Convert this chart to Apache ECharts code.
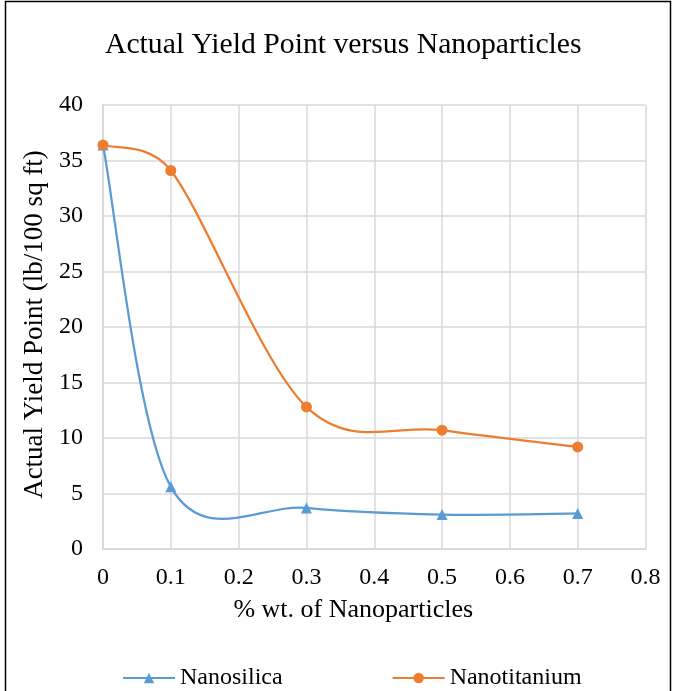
<!DOCTYPE html>
<html>
<head>
<meta charset="utf-8">
<script src="https://cdn.jsdelivr.net/npm/echarts@6/dist/echarts.min.js"></script>
<style>
  html, body { margin: 0; padding: 0; background: #fff; }
  #chart { width: 673px; height: 691px; }
</style>
</head>
<body>
<div id="chart"></div>
<script>
// Nanoparticle concentration (% wt.)
const concentration = [0, 0.1, 0.3, 0.5, 0.7];
// Actual yield point, lb/100 sq ft
const nanosilica = [36.4, 5.6, 3.7, 3.1, 3.2];
const nanotitanium = [36.4, 34.1, 12.8, 10.7, 9.2];

const xTicks = { min: 0, max: 0.8, interval: 0.1 };
const yTicks = { min: 0, max: 40, interval: 5 };

const BLUE = '#5b9bd5';
const ORANGE = '#ed7d31';
const serif = '"Liberation Serif", "Times New Roman", serif';

const pairs = (xs, ys) => xs.map((x, i) => [x, ys[i]]);

// Tangent handle for a Bezier segment: 1/6 of the neighbour span,
// capped at half of the segment length so short segments don't overshoot.
function handle(a, b, segLen) {
  let dx = (b[0] - a[0]) / 6;
  let dy = (b[1] - a[1]) / 6;
  const len = Math.hypot(dx, dy);
  const cap = segLen / 2;
  if (len > cap && len > 0) {
    dx *= cap / len;
    dy *= cap / len;
  }
  return [dx, dy];
}

// Smoothed connector through the data points, computed in screen space.
function smoothCurve(name, xs, ys, color) {
  return {
    id: name + '-curve',
    type: 'custom',
    coordinateSystem: 'cartesian2d',
    silent: true,
    z: 1,
    data: [[xs[0], ys[0]]],
    encode: { x: 0, y: 1 },
    renderItem: function (params, api) {
      const p = xs.map((x, i) => api.coord([x, ys[i]]));
      const n = p.length;
      let d = 'M' + p[0][0] + ',' + p[0][1];
      for (let i = 0; i < n - 1; i++) {
        const p0 = p[Math.max(i - 1, 0)];
        const p1 = p[i];
        const p2 = p[i + 1];
        const p3 = p[Math.min(i + 2, n - 1)];
        const seg = Math.hypot(p2[0] - p1[0], p2[1] - p1[1]);
        const h1 = handle(p0, p2, seg);
        const h2 = handle(p1, p3, seg);
        d += ' C' + (p1[0] + h1[0]) + ',' + (p1[1] + h1[1]) + ' ' +
             (p2[0] - h2[0]) + ',' + (p2[1] - h2[1]) + ' ' + p2[0] + ',' + p2[1];
      }
      return {
        type: 'path',
        shape: { pathData: d },
        style: { fill: 'none', stroke: color, lineWidth: 2.25 }
      };
    }
  };
}

// Markers at the measured points (the connector is drawn by smoothCurve)
function markers(name, xs, ys, symbol, color) {
  return {
    name: name,
    type: 'line',
    z: 3,
    data: pairs(xs, ys),
    symbol: symbol,
    symbolSize: 11,
    showSymbol: true,
    lineStyle: { opacity: 0, width: 0 },
    itemStyle: { color: color }
  };
}

const chart = echarts.init(document.getElementById('chart'));
chart.setOption({
  animation: false,
  textStyle: { fontFamily: serif },
  title: {
    text: 'Actual Yield Point versus Nanoparticles',
    left: 105,
    top: 30,
    padding: 0,
    textStyle: { fontFamily: serif, fontSize: 29.7, fontWeight: 'normal', color: '#000' }
  },
  graphic: [{
    type: 'rect',
    shape: { x: 5.5, y: 1.5, width: 665, height: 720 },
    style: { fill: 'none', stroke: '#000', lineWidth: 1.5 },
    silent: true
  }],
  grid: { left: 103, right: 27.5, top: 105, bottom: 142 },
  xAxis: {
    type: 'value',
    min: xTicks.min, max: xTicks.max, interval: xTicks.interval,
    name: '% wt. of Nanoparticles',
    nameLocation: 'middle',
    nameGap: 48,
    nameTextStyle: { fontFamily: serif, fontSize: 26, color: '#000', padding: [0, 42, 0, 0] },
    axisLine: { show: true, lineStyle: { color: '#d9d9d9', width: 2 } },
    axisTick: { show: false },
    axisLabel: { fontFamily: serif, fontSize: 24, color: '#000', margin: 17,
      formatter: v => String(Math.round(v * 10) / 10) },
    splitLine: { show: true, lineStyle: { color: '#d9d9d9', width: 1.5 } }
  },
  yAxis: {
    type: 'value',
    min: yTicks.min, max: yTicks.max, interval: yTicks.interval,
    name: 'Actual Yield Point (lb/100 sq ft)',
    nameLocation: 'middle',
    nameGap: 55,
    nameTextStyle: { fontFamily: serif, fontSize: 27, color: '#000', padding: [0, 0, 0, 5] },
    axisLine: { show: true, lineStyle: { color: '#d9d9d9', width: 2 } },
    axisTick: { show: false },
    axisLabel: { fontFamily: serif, fontSize: 24, color: '#000', margin: 20 },
    splitLine: { show: true, lineStyle: { color: '#d9d9d9', width: 1.5 } }
  },
  legend: {
    left: 122,
    bottom: 1,
    padding: 0,
    itemGap: 109,
    itemWidth: 52,
    itemHeight: 13,
    textStyle: { fontFamily: serif, fontSize: 24, color: '#000' },
    data: [
      { name: 'Nanosilica', lineStyle: { color: BLUE, width: 2, opacity: 1 } },
      { name: 'Nanotitanium', lineStyle: { color: ORANGE, width: 2, opacity: 1 } }
    ]
  },
  series: [
    smoothCurve('Nanosilica', concentration, nanosilica, BLUE),
    smoothCurve('Nanotitanium', concentration, nanotitanium, ORANGE),
    markers('Nanosilica', concentration, nanosilica, 'triangle', BLUE),
    markers('Nanotitanium', concentration, nanotitanium, 'circle', ORANGE)
  ]
});
</script>
</body>
</html>
